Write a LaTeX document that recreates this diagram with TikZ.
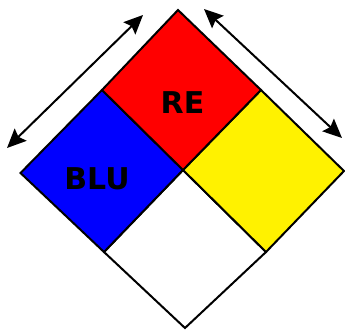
\documentclass[tikz,border=0pt]{standalone}
\usepackage{fontspec}
\setmainfont{DejaVu Sans}
\usetikzlibrary{arrows.meta}
\begin{document}
\begin{tikzpicture}[x=1pt,y=-1pt,
  panel/.style={draw=black,line width=2pt,line join=miter},
  dim/.style={draw=black,line width=2pt,{Stealth[length=19pt,width=17pt,inset=3pt]}-{Stealth[length=19pt,width=17pt,inset=3pt]}},
  lbl/.style={font=\bfseries\fontsize{30}{30}\selectfont,inner sep=0pt,anchor=base}]
\useasboundingbox (0,0) rectangle (345,330);
% corner coordinates
\coordinate (T) at (178,10);
\coordinate (RL) at (102,90);
\coordinate (RR) at (261,90);
\coordinate (C) at (183,170);
\coordinate (L) at (20.5,173);
\coordinate (R) at (344,171);
\coordinate (BL) at (104,252);
\coordinate (BR) at (266,252);
\coordinate (B) at (185,328);
% panels
\filldraw[panel,fill=white] (C) -- (BL) -- (B) -- (BR) -- cycle;
\filldraw[panel,fill=blue] (RL) -- (L) -- (BL) -- (C) -- cycle;
\filldraw[panel,fill=yellow] (RR) -- (C) -- (BR) -- (R) -- cycle;
\filldraw[panel,fill=red] (T) -- (RL) -- (C) -- (RR) -- cycle;
% labels
\node[lbl] (re) at (182.5,113.5) {RE};
\node[lbl] (blu) at (97,189) {BLU};
% dimension arrows
\coordinate (a1) at (7,148);
\coordinate (a2) at (143,15);
\coordinate (b1) at (204,9);
\coordinate (b2) at (342,138);
\draw[dim] (a1) -- (a2);
\draw[dim] (b1) -- (b2);
\end{tikzpicture}
\end{document}
